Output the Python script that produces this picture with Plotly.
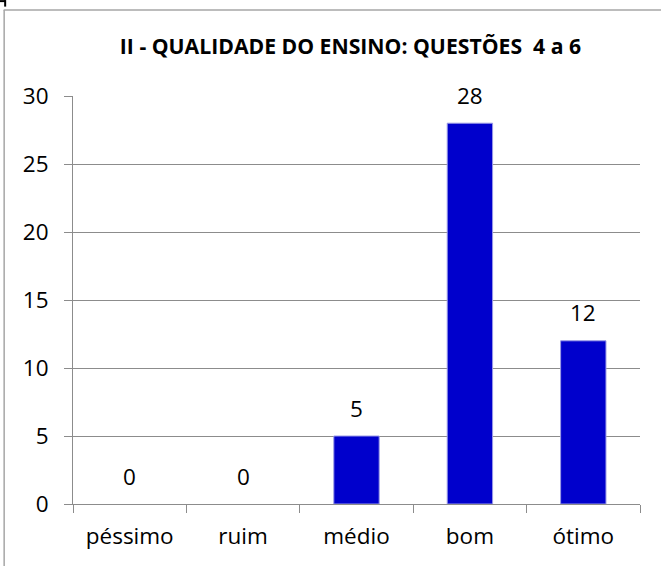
import plotly.graph_objects as go

categories = ["péssimo", "ruim", "médio", "bom", "ótimo"]
values = [0, 0, 5, 28, 12]
y_ticks = [0, 5, 10, 15, 20, 25, 30]
title_text = "<b>II - QUALIDADE DO ENSINO: QUESTÕES  4 a 6</b>"

W, H = 661, 566
L, R, T, B = 73.3, 640.0, 96.0, 504.5

def px(x):
    return (x - L) / (R - L)

def py(y):
    return (B - y) / (B - T)

FONT = "Open Sans"
TICK_SIZE = 22.5

fig = go.Figure()
fig.add_trace(go.Bar(
    x=categories, y=values,
    marker=dict(color="#0000CC",
                line=dict(color="#9a9ae6", width=[0 if v == 0 else 1 for v in values])),
    width=0.4,
    hoverinfo="skip",
))

for c, v in zip(categories, values):
    fig.add_annotation(x=c, y=v, text=str(v), showarrow=False,
                       yanchor="middle", yshift=28,
                       font=dict(family=FONT, size=TICK_SIZE, color="#000"))

shapes = [
    # chart border (left and top)
    dict(type="line", xref="paper", yref="paper", x0=px(4.5), x1=px(4.5),
         y0=py(10), y1=py(570), line=dict(color="#a6a6a6", width=1.5)),
    dict(type="line", xref="paper", yref="paper", x0=px(4), x1=px(665),
         y0=py(10), y1=py(10), line=dict(color="#a6a6a6", width=1.5)),
    # corner mark
    dict(type="line", xref="paper", yref="paper", x0=px(0), x1=px(6),
         y0=py(1), y1=py(1), line=dict(color="#000", width=2)),
    dict(type="line", xref="paper", yref="paper", x0=px(5.5), x1=px(5.5),
         y0=py(0), y1=py(6.5), line=dict(color="#000", width=2)),
]

fig.update_layout(
    width=W, height=H,
    margin=dict(l=L, r=W - R, t=T, b=H - B, pad=0),
    paper_bgcolor="white", plot_bgcolor="white",
    showlegend=False,
    bargap=0.6,
    title=dict(text=title_text, x=350.5 / W, xanchor="center",
               y=1 - 47 / H, yanchor="middle",
               font=dict(family=FONT, size=21.2, color="#000")),
    shapes=shapes,
    xaxis=dict(
        showline=True, linecolor="#8c8c8c", linewidth=1,
        ticks="outside", ticklen=8, tickcolor="#8c8c8c",
        tickson="boundaries",
        tickfont=dict(family=FONT, size=TICK_SIZE, color="#000"),
        ticklabelstandoff=12,
        showgrid=False, fixedrange=True,
    ),
    yaxis=dict(
        range=[0, 30], tickvals=y_ticks,
        showline=True, linecolor="#8c8c8c", linewidth=1,
        ticks="outside", ticklen=8, tickcolor="#8c8c8c",
        showgrid=True, gridcolor="#8c8c8c", gridwidth=1,
        zeroline=False,
        tickfont=dict(family=FONT, size=TICK_SIZE, color="#000"),
        ticklabelstandoff=11,
        fixedrange=True,
    ),
)

fig.write_html("out.html",
               config={"displayModeBar": False},
               post_script="document.body.style.margin='0';document.body.style.overflow='hidden';")
